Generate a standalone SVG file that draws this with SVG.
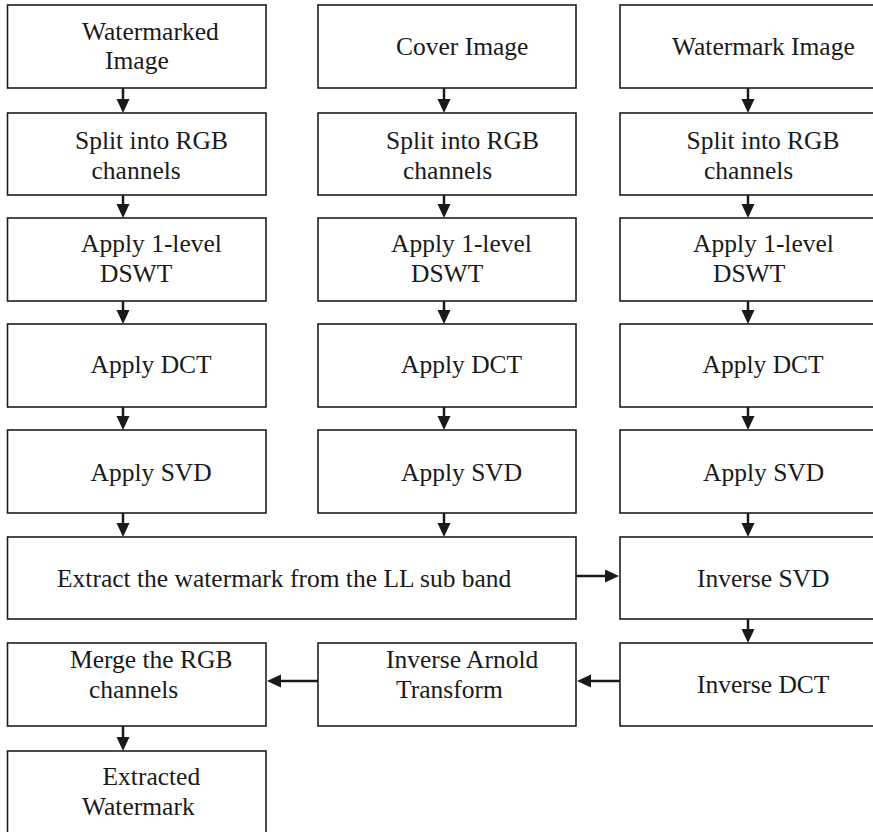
<svg xmlns="http://www.w3.org/2000/svg" width="873" height="832" viewBox="0 0 873 832">
<defs>
<style>
.box{fill:#fff;stroke:#1e1e1e;stroke-width:1.6}
.c{stroke:#1a1a1a;stroke-width:2.5;fill:none}
</style>
<marker id="ah" markerUnits="userSpaceOnUse" markerWidth="15" markerHeight="14" refX="0" refY="6.5" orient="auto">
<path d="M0,0 L14,6.5 L0,13 z" fill="#1a1a1a"/>
</marker>
</defs>
<rect width="873" height="832" fill="#fff"/>

<g id="connectors">
<path class="c" marker-end="url(#ah)" d="M123,88 V99"/>
<path class="c" marker-end="url(#ah)" d="M123,195 V204"/>
<path class="c" marker-end="url(#ah)" d="M123,301 V310"/>
<path class="c" marker-end="url(#ah)" d="M123,407 V416"/>
<path class="c" marker-end="url(#ah)" d="M123,513 V523"/>
<path class="c" marker-end="url(#ah)" d="M123,726 V737"/>
<path class="c" marker-end="url(#ah)" d="M444,88 V99"/>
<path class="c" marker-end="url(#ah)" d="M444,195 V204"/>
<path class="c" marker-end="url(#ah)" d="M444,301 V310"/>
<path class="c" marker-end="url(#ah)" d="M444,407 V416"/>
<path class="c" marker-end="url(#ah)" d="M444,513 V523"/>
<path class="c" marker-end="url(#ah)" d="M748,88 V99"/>
<path class="c" marker-end="url(#ah)" d="M748,195 V204"/>
<path class="c" marker-end="url(#ah)" d="M748,301 V310"/>
<path class="c" marker-end="url(#ah)" d="M748,407 V416"/>
<path class="c" marker-end="url(#ah)" d="M748,513 V523"/>
<path class="c" marker-end="url(#ah)" d="M748,619 V629"/>
<path class="c" marker-end="url(#ah)" d="M576,576 H605"/>
<path class="c" marker-end="url(#ah)" d="M620,681 H591"/>
<path class="c" marker-end="url(#ah)" d="M318,681 H281"/>
</g>

<g font-family="Liberation Serif, serif" font-size="25.5" fill="#1a1a1a">
<g id="watermarked-image"><rect class="box" x="7.5" y="5" width="258.5" height="83"/>
<text x="82" y="39.5">Watermarked</text><text x="105" y="68.5">Image</text></g>
<g id="split-1"><rect class="box" x="7.5" y="113" width="258.5" height="82"/>
<text x="75" y="148.5">Split into RGB</text><text x="91.5" y="178.5">channels</text></g>
<g id="dswt-1"><rect class="box" x="7.5" y="218" width="258.5" height="83"/>
<text x="81" y="252">Apply 1-level</text><text x="100" y="282">DSWT</text></g>
<g id="dct-1"><rect class="box" x="7.5" y="324" width="258.5" height="83"/>
<text x="90.5" y="373">Apply DCT</text></g>
<g id="svd-1"><rect class="box" x="7.5" y="430" width="258.5" height="83"/>
<text x="90.5" y="480.5">Apply SVD</text></g>

<g id="cover-image"><rect class="box" x="318" y="5" width="258" height="83"/>
<text x="396" y="54.5">Cover Image</text></g>
<g id="split-2"><rect class="box" x="318" y="113" width="258" height="82"/>
<text x="386" y="148.5">Split into RGB</text><text x="403" y="178.5">channels</text></g>
<g id="dswt-2"><rect class="box" x="318" y="218" width="258" height="83"/>
<text x="391" y="252">Apply 1-level</text><text x="411" y="282">DSWT</text></g>
<g id="dct-2"><rect class="box" x="318" y="324" width="258" height="83"/>
<text x="401" y="373">Apply DCT</text></g>
<g id="svd-2"><rect class="box" x="318" y="430" width="258" height="83"/>
<text x="401" y="480.5">Apply SVD</text></g>

<g id="watermark-image"><rect class="box" x="620" y="5" width="262" height="83"/>
<text x="672" y="54.5">Watermark Image</text></g>
<g id="split-3"><rect class="box" x="620" y="113" width="262" height="82"/>
<text x="686.5" y="148.5">Split into RGB</text><text x="704" y="178.5">channels</text></g>
<g id="dswt-3"><rect class="box" x="620" y="218" width="262" height="83"/>
<text x="693" y="252">Apply 1-level</text><text x="713" y="282">DSWT</text></g>
<g id="dct-3"><rect class="box" x="620" y="324" width="262" height="83"/>
<text x="702.5" y="373">Apply DCT</text></g>
<g id="svd-3"><rect class="box" x="620" y="430" width="262" height="83"/>
<text x="703" y="480.5">Apply SVD</text></g>

<g id="extract"><rect class="box" x="7.5" y="537" width="568.5" height="82"/>
<text x="57" y="586.5">Extract the watermark from the LL sub band</text></g>
<g id="inverse-svd"><rect class="box" x="620" y="537" width="262" height="82"/>
<text x="697" y="586.5">Inverse SVD</text></g>
<g id="inverse-dct"><rect class="box" x="620" y="643" width="262" height="83"/>
<text x="697" y="693">Inverse DCT</text></g>
<g id="inverse-arnold"><rect class="box" x="318" y="643" width="258" height="83"/>
<text x="386" y="668">Inverse Arnold</text><text x="396" y="698">Transform</text></g>
<g id="merge"><rect class="box" x="7.5" y="643" width="258.5" height="83"/>
<text x="70" y="668">Merge the RGB</text><text x="89" y="698">channels</text></g>
<g id="extracted-watermark"><rect class="box" x="7.5" y="751" width="258.5" height="90"/>
<text x="102.5" y="785">Extracted</text><text x="82" y="815">Watermark</text></g>
</g>
</svg>
